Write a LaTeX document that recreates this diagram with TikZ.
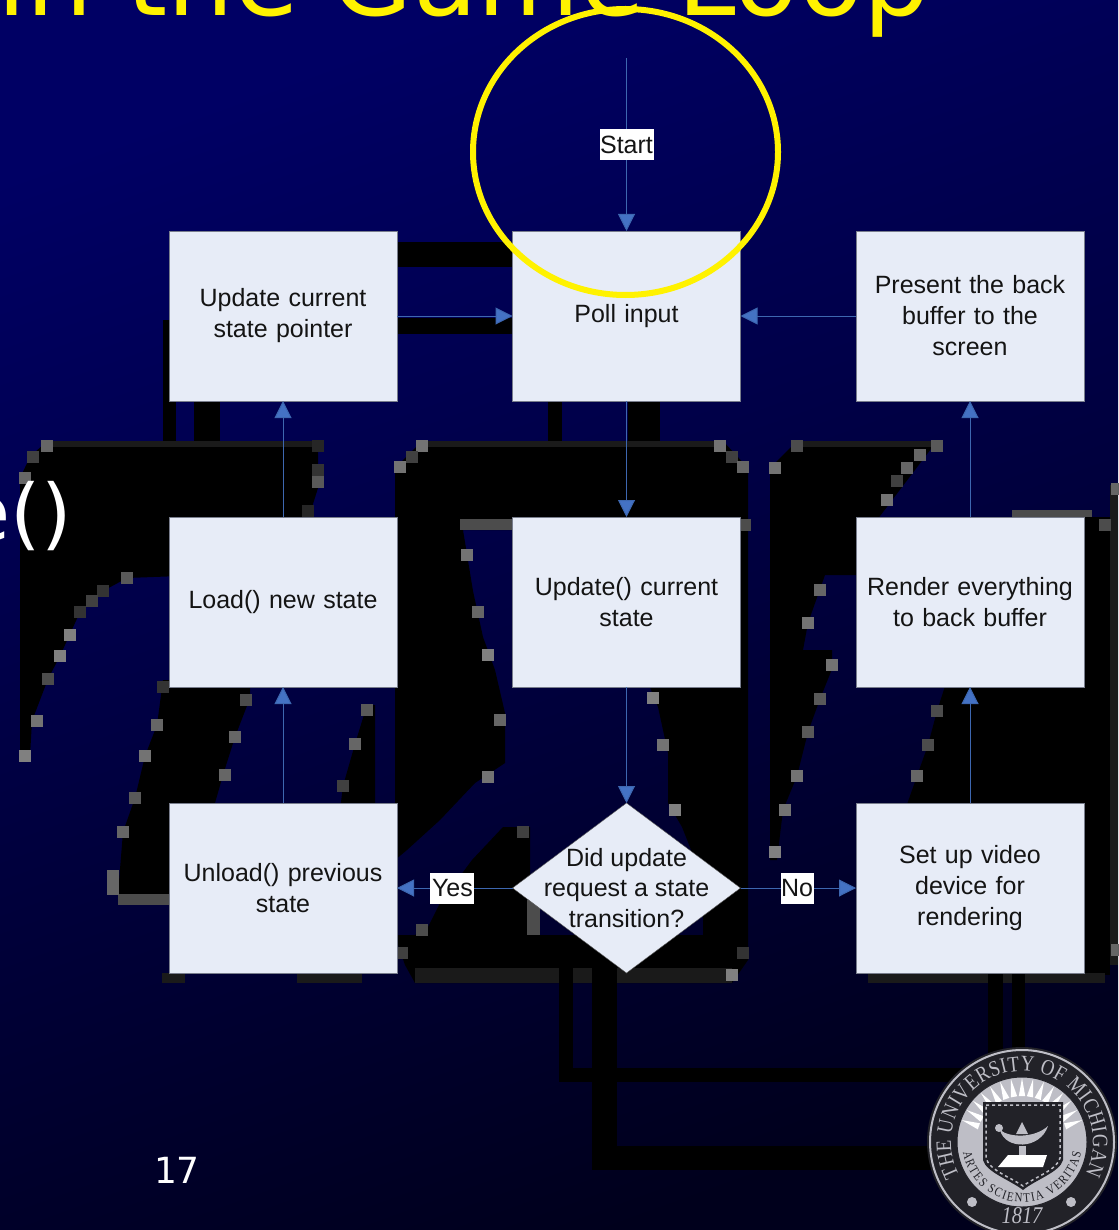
\documentclass[tikz,border=0pt]{standalone}
\usepackage{fontspec}
\setmainfont{Liberation Sans}
\newfontfamily\slidefont{DejaVu Sans}
\newfontfamily\sealfont[FakeStretch=0.85]{Liberation Serif}
\usepackage{xcolor}
\usetikzlibrary{shapes.geometric, arrows.meta, positioning, decorations.text}
\definecolor{bgtop}{RGB}{0,0,100}
\definecolor{bgbottom}{RGB}{0,0,28}
\definecolor{boxcolor}{RGB}{231,236,247}
\definecolor{boxborder}{RGB}{120,125,140}
\definecolor{flowcolor}{RGB}{68,114,196}
\definecolor{stripcolor}{RGB}{26,26,26}
\definecolor{sealdark}{RGB}{34,34,40}
\definecolor{seallight}{RGB}{190,190,198}
\tikzset{
    block/.style={rectangle, draw=boxborder, line width=0.6pt, fill=boxcolor, outer sep=0pt, inner sep=0pt,
        minimum width=228pt, minimum height=170pt, text width=210pt, align=center,
        font=\fontsize{25}{31}\selectfont, text=black!92},
    decision/.style={diamond, draw=black!70, line width=0.4pt, fill=boxcolor, outer sep=0pt, inner sep=0pt,
        minimum width=228pt, minimum height=170pt, aspect=1.34},
    decisiontext/.style={align=center, inner sep=0pt, font=\fontsize{25}{30.5}\selectfont, text=black!92},
    flowlabel/.style={fill=white, inner sep=0pt, minimum height=31pt, font=\fontsize{25}{30}\selectfont, text=black!92},
    arrow/.style={-{Triangle[length=17pt,width=17pt,fill=flowcolor]}, draw=flowcolor!90!black, line width=1pt},
    shadow/.style={fill=black, draw=none},
    strip/.style={fill=stripcolor, draw=none}
}
\begin{document}
\begin{tikzpicture}[x=1pt, y=-1pt]

    % Slide background
    \fill[top color=bgtop, bottom color=bgbottom, shading angle=20, use as bounding box] (0,0) rectangle (1118,1230);

    % Blocky shadow behind the chart
    \fill[shadow] (397,242) rectangle (513,267);
    \fill[shadow] (397,318) rectangle (513,334);
    \fill[shadow] (163,320) rectangle (176,446);
    \fill[shadow] (194,401) rectangle (220,446);
    \fill[shadow] (548,401) rectangle (562,446);
    \fill[shadow] (628,401) rectangle (660,446);
    \fill[shadow] (47,441) -- (318,441) -- (318,488) -- (308,520) -- (180,576) -- (127,578) -- (103,591) -- (80,612)
        -- (60,656) -- (48,679) -- (32,721) -- (30,756) -- (20,756) -- (20,478) -- (30,457) -- cycle;
    \fill[shadow] (163,680) -- (250,680) -- (250,698) -- (235,737) -- (223,775) -- (213,810) -- (180,810) -- (180,894)
        -- (118,894) -- (123,832) -- (135,798) -- (145,756) -- (157,725) -- cycle;
    \fill[shadow] (367,705) -- (375,705) -- (375,810) -- (340,810) -- (343,786) -- (355,744) -- cycle;
    \fill[shadow] (422,441) -- (723,441) -- (748,468) -- (748,960) -- (732,983) -- (415,983) -- (405,965) -- (398,945)
        -- (398,935) -- (415,935) -- (428,927) -- (440,903) -- (472,860) -- (503,827) -- (530,827) -- (530,935)
        -- (703,935) -- (703,880) -- (682,827) -- (668,803) -- (668,753) -- (658,707) -- (647,680) -- (520,680)
        -- (520,530) -- (463,530) -- (473,591) -- (483,637) -- (495,670) -- (505,713) -- (505,763) -- (475,783)
        -- (440,820) -- (407,850) -- (395,860) -- (395,468) -- cycle;
    \fill[shadow] (797,441) -- (937,441) -- (877,520) -- (860,520) -- (860,575) -- (825,575) -- (808,623) -- (803,650)
        -- (832,650) -- (832,669) -- (820,699) -- (808,732) -- (797,776) -- (783,810) -- (777,860) -- (770,860)
        -- (770,468) -- cycle;
    \fill[shadow] (947,680) -- (1083,680) -- (1083,810) -- (905,810) -- (917,776) -- (928,745) -- (937,711) -- cycle;
    \fill[shadow] (1075,517) rectangle (1110,975);
    \fill[strip] (1110,485) rectangle (1118,965);
    \fill[strip] (868,973) rectangle (1105,983);
    \fill[strip] (415,968) rectangle (732,983);
    \fill[strip] (162,973) rectangle (185,983);
    \fill[strip] (297,973) rectangle (362,983);
    \fill[strip] (422,441) rectangle (723,447);
    \fill[strip] (47,441) rectangle (318,447);
    \fill[strip] (797,441) rectangle (937,447);
    \fill[black!70] (460,519) rectangle (513,530);
    \fill[black!70] (1012,510) rectangle (1092,517);
    \fill[black!70] (118,894) rectangle (169,905);
    \fill[black!60] (107,870) rectangle (119,895);
    \fill[black!70] (527,900) rectangle (540,935);
    \fill[shadow] (559,960) rectangle (573,1082);
    \fill[shadow] (592,960) rectangle (617,1170);
    \fill[shadow] (559,1068) rectangle (1000,1082);
    \fill[shadow] (592,1146) rectangle (1000,1170);
    \fill[shadow] (988,973) rectangle (1003,1060);
    \fill[shadow] (1012,973) rectangle (1025,1060);
    \foreach \x/\y/\g in {47/446/60, 33/457/75, 25/478/60, 127/578/65, 103/591/80, 92/601/75, 80/612/80, 70/635/50,
        60/656/50, 48/679/70, 37/721/55, 25/756/50, 318/446/85, 318/470/80, 318/482/65, 308/511/85, 163/687/80,
        157/725/60, 145/756/55, 135/798/65, 123/832/60, 246/700/70, 235/737/60, 225/775/60, 367/710/65, 355/744/60,
        343/786/75, 422/446/55, 412/457/75, 400/467/55, 720/446/55, 732/457/75, 743/467/60, 745/525/70, 467/555/55,
        478/612/60, 488/655/50, 653/698/50, 663/745/55, 675/810/50, 488/777/55, 500/720/60, 523/832/75, 422/930/70,
        402/953/75, 743/953/80, 732/975/50, 797/446/70, 775/468/55, 937/446/65, 920/455/60, 907/468/60, 897/481/75,
        887/500/55, 820/590/60, 808/623/55, 832/665/55, 820/699/65, 808/732/65, 797/776/55, 785/810/55, 775/852/50,
        937/711/70, 928/745/70, 917/776/60, 1117/489/60, 1105/525/70, 1117/950/60}
        \fill[black!\g] (\x-6,\y-6) rectangle ++(12,12);

    % Slide texts
    \node[anchor=base east, inner sep=0pt, text=yellow, font=\slidefont\fontsize{105}{105}\selectfont] (slidetitle) at (930,16) {in the Game Loop};
    \node[anchor=east, inner sep=0pt, text=white, font=\slidefont\fontsize{78}{78}\selectfont] (slidecode) at (72,516) {e()};
    \node[inner sep=0pt, text=white, font=\slidefont\fontsize{36}{36}\selectfont] (pagenum) at (177,1170) {17};

    % Top row
    \node[block] (poll) at (626.5,316) {Poll input};
    \node[block, left=115.5pt of poll] (pointer) {Update current\\state pointer};
    \node[block, right=115.5pt of poll] (present) {Present the back\\buffer to the\\screen};

    % Middle row
    \node[block, below=116pt of pointer] (load) {Load() new state};
    \node[block, below=116pt of poll] (update) {Update() current\\state};
    \node[block, below=116pt of present] (render) {Render everything\\to back buffer};

    % Bottom row
    \node[block, below=116pt of load] (unload) {Unload() previous\\state};
    \node[decision, below=116pt of update] (transition) {};
    \node[decisiontext] (transitiontext) at (transition) {Did update\\request a state\\transition?};
    \node[block, below=116pt of render] (video) {Set up video\\device for\\rendering};

    \coordinate (startTop) at (626.5,58);

    \draw[arrow] (startTop) -- node[flowlabel, minimum width=54pt] (startlabel) {Start} (poll);
    \draw[arrow] (pointer) -- (poll);
    \draw[arrow] (present) -- (poll);
    \draw[arrow] (poll) -- (update);
    \draw[arrow] (update) -- (transition);
    \draw[arrow] (transition) -- node[flowlabel, minimum width=44pt, pos=0.52] (yeslabel) {Yes} (unload);
    \draw[arrow] (transition) -- node[flowlabel, minimum width=33pt, pos=0.49] (nolabel) {No} (video);
    \draw[arrow] (unload) -- (load);
    \draw[arrow] (load) -- (pointer);
    \draw[arrow] (video) -- (render);
    \draw[arrow] (render) -- (present);

    % Highlight ring
    \node[ellipse, draw=yellow, line width=6pt, inner sep=0pt, outer sep=0pt, minimum width=305pt, minimum height=286pt] (ring) at (625.5,152) {};

    % University seal
    \begin{scope}[shift={(1022,1142)}, y=1pt]
        \fill[sealdark] (0,0) circle (95);
        \draw[seallight, line width=2pt] (0,0) circle (92);
        \path[decorate, decoration={text along path, text align={fit to path},
            text={|\sealfont\fontsize{22}{22}\selectfont\color{seallight}|THE UNIVERSITY OF MICHIGAN}}]
            (208:71) arc[start angle=208, end angle=-27, radius=71];
        \fill[seallight] (0,0) circle (65);
        \foreach \a in {20,30,...,160}
            \fill[white] (\a-4:46) -- (\a:64) -- (\a+4:46) -- cycle;
        \draw[sealdark, line width=1pt] (0,0) circle (65);
        \path[decorate, decoration={text along path, text align={fit to path},
            text={|\sealfont\fontsize{13}{13}\selectfont\color{sealdark}|ARTES SCIENTIA VERITAS}}]
            (190:60) arc[start angle=190, end angle=350, radius=60];
        \fill[sealdark] (-39,40) -- (41,40) -- (41,-18) .. controls (38,-30) and (13,-38) .. (1,-48)
            .. controls (-12,-38) and (-36,-30) .. (-39,-18) -- cycle;
        \draw[seallight, line width=1.5pt, dashed] (-36,37) -- (38,37) -- (38,-16) .. controls (35,-28) and (13,-35) .. (1,-44)
            .. controls (-12,-35) and (-33,-28) .. (-36,-16) -- cycle;
        \fill[seallight] (-22,12) .. controls (-12,4) and (13,4) .. (26,16) .. controls (18,-8) and (-17,-8) .. (-22,12) -- cycle;
        \fill[seallight] (0,20) -- (6,8) -- (-6,8) -- cycle;
        \fill[seallight] (-23,14) circle (4);
        \fill[seallight] (-3,-4) rectangle (4,-14);
        \fill[white] (-14,-13) -- (25,-13) -- (21,-25) -- (-24,-25) -- cycle;
        \fill[seallight] (-50,-60) circle (5);
        \fill[seallight] (49,-60) circle (5);
        \node[inner sep=0pt, text=seallight, font=\sealfont\itshape\fontsize{24}{24}\selectfont] (sealyear) at (0,-74) {1817};
    \end{scope}

\end{tikzpicture}
\end{document}
